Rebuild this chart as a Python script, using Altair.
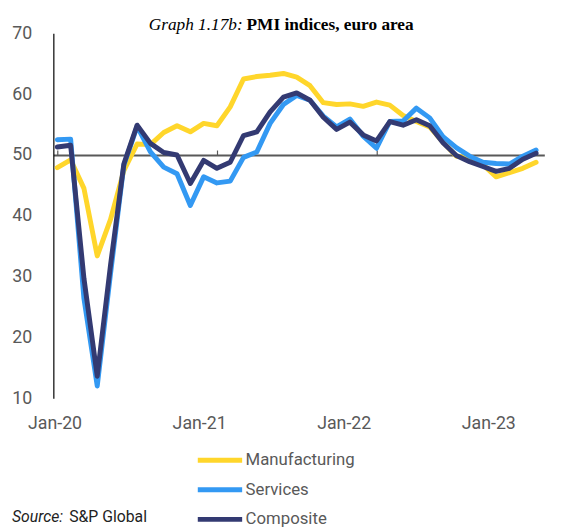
import altair as alt
import pandas as pd

# ---------------- data ----------------
months = [f"{y}-{m:02d}" for y in (2020, 2021, 2022) for m in range(1, 13)] + ["2023-01"]

manufacturing = [47.9, 49.2, 44.5, 33.4, 39.4, 47.4, 51.8, 51.7, 53.7, 54.8, 53.8, 55.2,
                 54.8, 57.9, 62.5, 62.9, 63.1, 63.4, 62.8, 61.4, 58.6, 58.3, 58.4, 58.0,
                 58.7, 58.2, 56.5, 55.5, 54.6, 52.1, 49.8, 49.6, 48.4, 46.4, 47.1, 47.8, 48.8]
services = [52.5, 52.6, 26.4, 12.0, 30.5, 48.3, 54.7, 50.5, 48.0, 46.9, 41.7, 46.4,
            45.4, 45.7, 49.6, 50.5, 55.2, 58.3, 59.8, 59.0, 56.4, 54.6, 55.9, 53.1,
            51.1, 55.5, 55.6, 57.7, 56.1, 53.0, 51.2, 49.8, 48.8, 48.6, 48.5, 49.8, 50.8]
composite = [51.3, 51.6, 29.7, 13.6, 31.9, 48.5, 54.9, 51.9, 50.4, 50.0, 45.3, 49.1,
             47.8, 48.8, 53.2, 53.8, 57.1, 59.5, 60.2, 59.0, 56.2, 54.2, 55.4, 53.3,
             52.3, 55.5, 54.9, 55.8, 54.8, 52.0, 49.9, 48.9, 48.1, 47.3, 47.8, 49.3, 50.3]

series_names = ["Manufacturing", "Services", "Composite"]
series_colors = ["#FFD62B", "#3399F3", "#333A72"]
tick_labels = ["Jan-20", "Jan-21", "Jan-22", "Jan-23"]
tick_positions = [0, 12, 24, 36]
y_ticks = [10, 20, 30, 40, 50, 60, 70]

title_prefix = "Graph 1.17b:"
title_main = "PMI indices, euro area"
source_prefix = "Source:"
source_main = "S&P Global"

# ---------------- styling ----------------
FONT = "Roboto, sans-serif"
SERIF = "Liberation Serif"
GRAY = "#595959"

n = len(months)
df = pd.DataFrame({
    "idx": list(range(n)) * 3,
    "month": months * 3,
    "value": manufacturing + services + composite,
    "series": [s for s in series_names for _ in range(n)],
})

xscale = alt.Scale(domain=[-0.3, 36.62], nice=False, zero=False)
yscale = alt.Scale(domain=[10, 70], nice=False, zero=False)

xaxis_data = alt.Axis(orient="top", offset=-123.33, values=tick_positions, labels=False,
                      ticks=True, tickSize=5, tickColor=GRAY, tickWidth=1.2,
                      domainColor=GRAY, domainWidth=2, grid=False, title=None)
yaxis = alt.Axis(values=y_ticks, ticks=False, grid=False, domainColor="#000000",
                 domainWidth=1.2, labelFontSize=18, labelColor=GRAY, labelFont=FONT,
                 labelPadding=22, title=None)

legend = alt.Legend(orient="none", legendX=159, legendY=423, symbolType="M-3,0H3",
                    symbolSize=225, symbolStrokeWidth=5, labelFontSize=17, labelFont=FONT,
                    labelColor=GRAY, labelOffset=16, rowPadding=10, padding=0, title=None,
                    direction="vertical")

color = alt.Color("series:N", scale=alt.Scale(domain=series_names, range=series_colors),
                  legend=legend)

base = alt.Chart(df).mark_line(strokeWidth=5, strokeCap="round", strokeJoin="round").encode(
    x=alt.X("idx:Q", scale=xscale, axis=xaxis_data),
    y=alt.Y("value:Q", scale=yscale, axis=yaxis),
    color=color,
)
lines = alt.layer(*[base.transform_filter(alt.datum.series == s) for s in series_names])

label_expr = "[" + ",".join(f"'{t}'" for t in tick_labels) + "][round(datum.value/12)]"
labels_df = pd.DataFrame({"pos": tick_positions, "lab": tick_labels})
label_layer = alt.Chart(labels_df).mark_point(opacity=0).encode(
    x=alt.X("pos:Q", scale=alt.Scale(domain=[-0.1, 40.65], nice=False, zero=False),
            axis=alt.Axis(orient="bottom", values=tick_positions, labelExpr=label_expr,
                          domain=False, ticks=False, grid=False, labelFontSize=18,
                          labelColor=GRAY, labelFont=FONT, labelPadding=17,
                          labelFlush=False, labelOverlap=False, title=None)),
)


def text_layer(txt, x, y, **kw):
    return alt.Chart(pd.DataFrame({"t": [txt]})).mark_text(**kw).encode(
        x=alt.value(x), y=alt.value(y), text="t:N")


texts = [
    text_layer(title_prefix, 192, -3, font=SERIF, fontSize=17.5, fontStyle="italic",
               align="right", baseline="alphabetic", color="#000000"),
    text_layer(title_main, 196, -3, font=SERIF, fontSize=17.5, fontWeight="bold",
               align="left", baseline="alphabetic", color="#000000"),
    text_layer(source_prefix, -42, 496, font=FONT, fontSize=16, fontStyle="italic",
               align="left", baseline="alphabetic", color="#222222"),
    text_layer(source_main, 16, 496, font=FONT, fontSize=16,
               align="left", baseline="alphabetic", color="#222222"),
]

chart = alt.layer(lines, label_layer, *texts).resolve_scale(x="independent").properties(
    width=498, height=370,
    padding={"left": 46, "top": 22, "right": 23, "bottom": 129},
    autosize="none",
).configure_view(stroke=None)

chart.save("out.html", embed_options={"renderer": "svg", "actions": False})
